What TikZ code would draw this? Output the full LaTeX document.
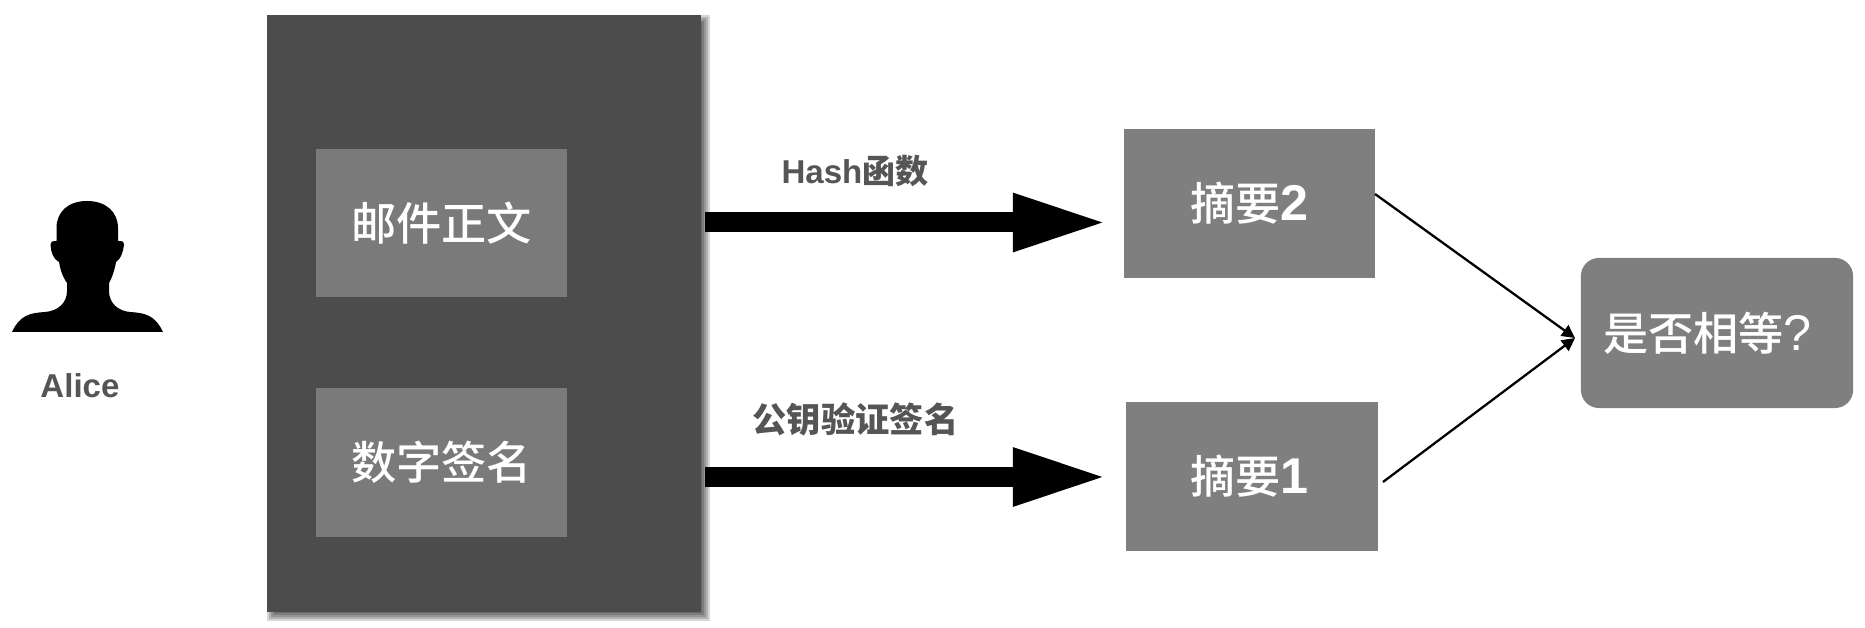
\documentclass[tikz,border=0pt]{standalone}
\usepackage{fontspec}
\setmainfont{Noto Sans CJK SC}
\newfontfamily\mediumfont{Noto Sans CJK SC Medium}
\newfontfamily\latinfont{Liberation Sans}
\newcommand{\digit}[1]{{\fontsize{14.3pt}{14pt}\selectfont\latinfont\bfseries #1}}
\usetikzlibrary{arrows.meta}
\definecolor{darkgray}{HTML}{4C4C4C}
\definecolor{midgray}{HTML}{7F7F7F}
\definecolor{innergray}{HTML}{7A7A7A}
\definecolor{labelgray}{HTML}{555555}
\begin{document}
\begin{tikzpicture}[x=0.01cm,y=-0.01cm]
    \tikzstyle{graybox}=[fill=midgray,text=white,inner sep=0pt,minimum width=2.51cm,minimum height=1.49cm,font=\fontsize{12.85pt}{14pt}\selectfont\mediumfont];
    \tikzstyle{label}=[text=labelgray,inner sep=0pt,font=\fontsize{9.4pt}{11pt}\selectfont\bfseries];
    \tikzstyle{fatarrow}=[line width=0.2cm,-{Triangle[length=0.95cm,width=0.53cm]}];
    \tikzstyle{thinarrow}=[line width=0.65pt,-{Triangle[length=0.13cm,width=0.13cm]}];
    \useasboundingbox (0,0) rectangle (1865,628);
    \fill[white] (0,0) rectangle (1865,628);
    % person
    \fill[black] (12,332) .. controls (20,315) and (30,313) .. (45,312)
    .. controls (58,311) and (67,303) .. (67,291) -- (67,283)
    .. controls (62,276) and (60,268) .. (59,262)
    .. controls (53,259) and (51,252) .. (50.5,245)
    .. controls (51,241) and (53,241) .. (56.5,241) -- (56.5,228)
    .. controls (56.5,212) and (68,201) .. (87,201)
    .. controls (106,201) and (118,212) .. (118,228) -- (118,241)
    .. controls (122,241) and (124,241) .. (124,245)
    .. controls (123,252) and (121,259) .. (116,262)
    .. controls (115,268) and (113,276) .. (109,283) -- (109,291)
    .. controls (109,303) and (118,311) .. (130,312)
    .. controls (145,313) and (155,315) .. (163,332) -- cycle;
    \node[label,font=\fontsize{9.4pt}{11pt}\selectfont\latinfont\bfseries] (alice) at (80,386) {Alice};
    % shadow of the message
    \foreach \g in {5,3,1,-1,-3}
      \fill[black,opacity=0.16] (272-\g,20-\g) rectangle (705+\g,616+\g);
    \node[fill=darkgray,inner sep=0pt,minimum width=4.34cm,minimum height=5.97cm] (message) at (484,313.5) {};
    \node[graybox,fill=innergray,minimum height=1.48cm] (body) at (441.5,223) {邮件正文};
    \node[graybox,fill=innergray] (signature) at (441.5,462.5) {数字签名};
    \node[graybox] (digesttwo) at (1249.5,203.5) {摘要\digit{2}};
    \node[graybox] (digestone) at (1252,476.5) {摘要\digit{1}\kern0.05cm};
    \node[graybox,rounded corners=0.18cm,minimum width=2.72cm,minimum height=1.5cm] (equal) at (1717,333) {是否相等{\fontsize{14.3pt}{14pt}\selectfont\latinfont ?}\kern0.19cm};
    \node[label] (hash) at (855,171) {{\latinfont Hash}函数};
    \node[label,font=\fontsize{9.75pt}{11pt}\selectfont\bfseries] (pubkey) at (855.5,419) {公钥验证签名};
    \coordinate (hashstart) at (705,222.5);
    \coordinate (hashend) at (1108,222.5);
    \coordinate (pubstart) at (705,477);
    \coordinate (pubend) at (1108,477);
    \coordinate (twostart) at (1375,194);
    \coordinate (onestart) at (1383,482);
    \coordinate (meet) at (1575,338);
    \draw[fatarrow] (hashstart) -- (hashend);
    \draw[fatarrow] (pubstart) -- (pubend);
    \draw[thinarrow] (twostart) -- (meet);
    \draw[thinarrow] (onestart) -- (meet);
  \end{tikzpicture}
\end{document}
